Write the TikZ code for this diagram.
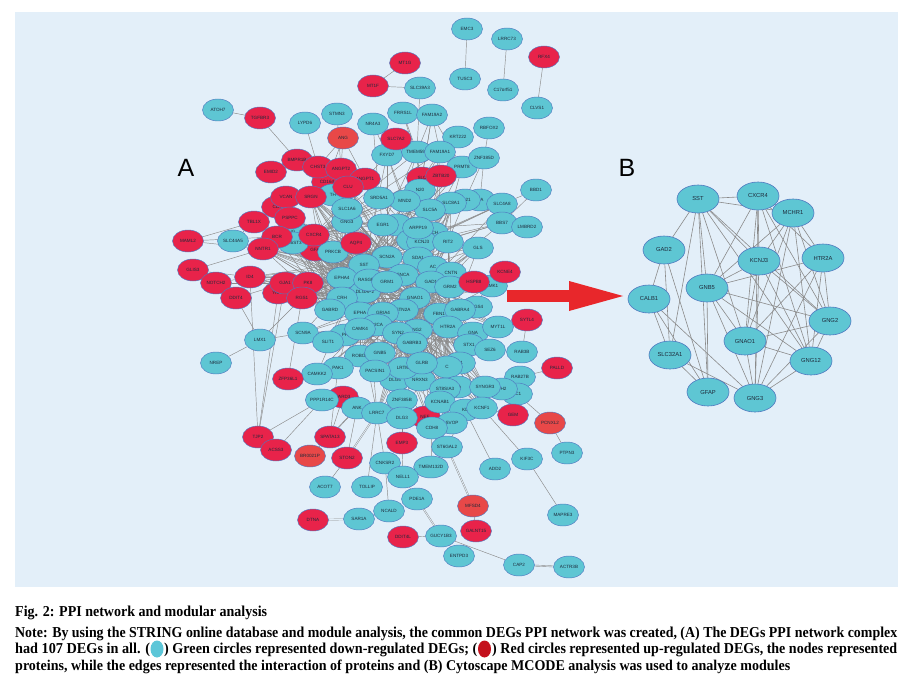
\documentclass[tikz,border=0pt]{standalone}
\usepackage{fontspec}
\setmainfont{Liberation Serif}
\setsansfont{Liberation Sans}
\usetikzlibrary{shapes.geometric}
\pgfdeclarelayer{back}
\pgfdeclarelayer{edges}
\pgfsetlayers{back,edges,main}
\definecolor{bgc}{HTML}{E3EFF9}
\definecolor{cyf}{HTML}{5EC6D3}
\definecolor{rdf}{HTML}{E8234A}
\definecolor{rlf}{HTML}{E84848}
\definecolor{ndr}{HTML}{4F78C0}
\definecolor{edg}{HTML}{8A8A8A}
\definecolor{txt}{HTML}{1E2A3A}
\definecolor{arr}{HTML}{E8272B}
\definecolor{capcy}{HTML}{5CC6D8}
\definecolor{caprd}{HTML}{C4101C}
\begin{document}
\begin{tikzpicture}[x=1pt,y=-1pt,
 cy/.style={ellipse,draw=ndr,line width=0.45pt,fill=cyf,minimum width=31pt,minimum height=22pt,inner sep=0pt,font=\sffamily\fontsize{4.6}{4.6}\selectfont,text=txt},
 rd/.style={cy,fill=rdf},
 rl/.style={cy,fill=rlf},
 big/.style={cy,line width=0.6pt,minimum width=42pt,minimum height=28pt,font=\sffamily\fontsize{5.8}{5.8}\selectfont},
 ed/.style={draw=edg,line width=0.45pt},
 edb/.style={draw=edg,line width=0.6pt},
 dbl/.style={draw=edg,line width=0.4pt,double=bgc,double distance=0.8pt},
 capline/.style={anchor=base west,inner sep=0pt}]
\useasboundingbox (0,0) rectangle (915,682);
\begin{pgfonlayer}{back}
\fill[white] (0,0) rectangle (915,682);
\fill[bgc] (15,12) rectangle (898,587);
\end{pgfonlayer}

% ---------- nodes of network A ----------
\foreach \n/\x/\y/\l in {SLCr/422/178/SLC, GFA/315/250/GFA, NEF/425/417/NEF, PARD3/343/397/PARD3, CD164/327/182/CD164}
  \node[rd] (\n) at (\x,\y) {\l};
\foreach \n/\x/\y/\l in {EMC3/467/29/EMC3, LRRC73/507/39/LRRC73, TUSC3/465/79/TUSC3, C17orf51/503/90/C17orf51, CLVS1/537/108/CLVS1, SLC39A3/420/88/SLC39A3, ATOH7/218/110/ATOH7, LYPD6/305/123/LYPD6, STMN3/337/114/STMN3, NR4A3/373/124/NR4A3, FRRS1L/403/113/FRRS1L, FAM19A2/432/115/FAM19A2, RBFOX2/489/128/RBFOX2, KRT222/458/137/KRT222, FXYD7/387/155/FXYD7, TMEM59L/417/152/TMEM59L, FAM19A1/440/152/FAM19A1, PRMT8/462/167/PRMT8, ZNF385D/484/158/ZNF385D,
 N20/420/190/N20, ILA/480/200/ILA, PP21/465/200/PP21, SLC8A1/451/203/SLC8A1, SLC5A/430/210/SLC5A, MND2/405/201/MND2, TH/333/195/TH, SRD5A1/379/198/SRD5A1, SLC4A8/502/204/SLC4A8, BBS7/502/223/BBS7, LMBRD2/527/227/LMBRD2, BBD1/536/190/BBD1, GNGa/347/222/GNG3, SLC1A6/347/209/SLC1A6,
 EGRb/397/225/{}, EGR1/383/225/EGR1, CA/412/240/CA, MCH/433/233/MCH, KCNJ3/422/242/KCNJ3, ARPP19/418/228/ARPP19, RIT2/448/242/RIT2, GLS/478/248/GLS,
 IG/293/232/IG, HS6ST3/293/243/HS6ST3, PRKCB/333/252/PRKCB, SLC44A5/233/241/SLC44A5,
 SDA1/418/258/SDA1, AC/433/267/AC, SCN2A/387/257/SCN2A, SST/364/265/SST, CNTN/451/273/CNTN, SNCA/403/275/SNCA, GAD1/431/282/GAD1, EPHA4/342/278/EPHA4, DLGAP2/365/292/DLGAP2, RASGRF2/369/280/RASGRF2, GRM1/387/282/GRM1, AMK1/492/286/AMK1, GRM2/450/287/GRM2, CRH/342/298/CRH, GNAO1/415/298/GNAO1, RGS4/477/307/RGS4, GABRD/330/310/GABRD, STN2A/403/310/STN2A, EPHA/360/313/EPHA, GRIA4/383/313/GRIA4, FBN1/439/314/FBN1, GABRA4/460/310/GABRA4,
 PH/345/335/PH, P2CA/377/325/P2CA, CAMK4/360/329/CAMK4, SCN9A/303/333/SCN9A, NG2/417/330/NG2, SYN2/398/333/SYN2, HTR2A/448/327/HTR2A, GNA/473/333/GNA, MYT1L/498/327/MYT1L, GABRB3/412/343/GABRB3, SLIT1/328/342/SLIT1, STX1/469/345/STX1, SEZ6/490/350/SEZ6, RAB3B/522/352/RAB3B, LMX1/260/340/LMX1, NREP/216/363/NREP,
 B1/460/363/B1, C/447/367/C, ROBO2/360/356/ROBO2, GNB5/380/353/GNB5, DLG4/395/380/DLG4, NRXN3/420/380/NRXN3, LRTM/403/368/LRTM, GLRB/422/363/GLRB, PACSIN1/375/371/PACSIN1, PAK1/338/368/PAK1, CAMKK2/317/374/CAMKK2, RAB27B/520/377/RAB27B,
 SA/458/387/SA, ST8SIA3/445/389/ST8SIA3, LC1/517/394/LC1, PH2/502/389/PH2, SYNGR3/485/387/SYNGR3, PPP1R14C/322/400/PPP1R14C, ANK/357/408/ANK, ZNF385B/402/400/ZNF385B, KCNAB1/440/402/KCNAB1, LRRC7/377/413/LRRC7, DLG3/402/418/DLG3, KL/465/410/KL, KCNF1/482/408/KCNF1, SVOP/452/423/SVOP, CDH8/432/428/CDH8, ST6GAL2/447/447/ST6GAL2,
 CNKSR2/385/463/CNKSR2, TMEM132D/431/467/TMEM132D, ACOT7/325/487/ACOT7, TOLLIP/367/487/TOLLIP, NELL1/403/477/NELL1, ADD2/495/469/ADD2, KIF3C/527/459/KIF3C, PTPN3/567/453/PTPN3, PDE1A/417/499/PDE1A, NCALD/389/511/NCALD, MAPRE3/563/515/MAPRE3, SAR1A/359/519/SAR1A, GUCY1B3/441/536/GUCY1B3, ENTPD3/459/556/ENTPD3, CAP2/519/565/CAP2, ACTR3B/569/567/ACTR3B}
  \node[cy] (\n) at (\x,\y) {\l};
\foreach \n/\x/\y/\l in {MT1G/405/63/MT1G, MT1F/373/86/MT1F, RFX4/544/57/RFX4, TGFBR3/260/118/TGFBR3, SLC7A2/396/139/SLC7A2, BMPR1B/297/160/BMPR1B, EMID2/271/172/EMID2, CHST3/318/167/CHST3, ANGPT2/341/169/ANGPT2, ANGPT1/365/179/ANGPT1, ZBTB20/441/176/ZBTB20, CLU/348/187/CLU, CLA/277/207/CLA, VCAN/286/197/VCAN, SRGN/311/197/SRGN, PSPPC/290/218/PSPPC, TBL1X/254/222/TBL1X, BOR/277/237/BCR, NNTR1/263/249/NNTR1, CXCR4/314/235/CXCR4, AQP4/356/243/AQP4, MAML2/188/241/MAML2, GLIS3/193/270/GLIS3, NOTCH2/216/283/NOTCH2, ID4/250/277/ID4, DDIT4/236/298/DDIT4, YAP1/278/293/YAP1, GJA1/285/283/GJA1, PK8/308/283/PK8, RGS1/302/298/RGS1, HSPB8/474/282/HSPB8, KCNE4/505/272/KCNE4, SYTL4/527/320/SYTL4, PALLD/557/368/PALLD, ZFP36L1/288/379/ZFP36L1, GEM/513/415/GEM, TJP2/258/437/TJP2, SPATA13/330/437/SPATA13, EMP3/402/443/EMP3, ACSS3/276/450/ACSS3, STON2/347/458/STON2, DTNA/313/520/DTNA, DDIT4L/403/537/DDIT4L, GALNT15/476/531/GALNT15}
  \node[rd] (\n) at (\x,\y) {\l};
\foreach \n/\x/\y/\l in {ANG/343/138/ANG, BRP/310/456/BR0021P, PCNXL2/550/423/PCNXL2, MFSD4/473/506/MFSD4}
  \node[rl] (\n) at (\x,\y) {\l};

% ---------- edges of network A ----------
\begin{pgfonlayer}{edges}
\foreach \a in {SST,GAD1,GNAO1,SNCA,SCN2A,GRIA4,CRH,EPHA4,SYN2,HTR2A,RASGRF2,GABRD}
  \foreach \b in {CXCR4,GFA,AQP4,PRKCB,IG,HS6ST3,GJA1,ID4,CLU,TH,SLC1A6,SRGN,PSPPC,NNTR1,PK8,RGS1,BOR}
    \draw[ed] (\a) -- (\b);
\foreach \a in {SST,GAD1,GNAO1,SNCA,SYN2,HTR2A,GRIA4}
  \foreach \b in {KCNJ3,RIT2,GLS,CNTN,AMK1,GRM2,RGS4,FBN1,GABRA4,MYT1L,STX1,SEZ6,GNA,ARPP19,SLC8A1,B1,C,SYNGR3,ST8SIA3,KCNAB1,KCNF1}
    \draw[ed] (\a) -- (\b);
\foreach \a in {SST,GAD1,GNAO1,SYN2,HTR2A,CAMK4,GABRB3}
  \foreach \b in {ROBO2,GNB5,GLRB,LRTM,PACSIN1,PAK1,CAMKK2,DLG4,NRXN3,ZNF385B,KCNAB1,LRRC7,DLG3,CDH8,SVOP,SCN9A,SLIT1}
    \draw[ed] (\a) -- (\b);
\foreach \a in {SRD5A1,MND2,N20,SLC5A,SLC8A1,PP21,SLC4A8,BBS7,TMEM59L,FAM19A1,PRMT8,FXYD7,SLCr,ZBTB20}
  \foreach \b in {SST,SCN2A,GAD1,KCNJ3,CXCR4}
    \draw[ed] (\a) -- (\b);
\foreach \a/\b in {EMC3/TUSC3, LRRC73/C17orf51, RFX4/CLVS1, MT1G/MT1F, MT1F/SLC39A3, SLC39A3/TMEM59L, ATOH7/TGFBR3, TGFBR3/BMPR1B, LYPD6/CHST3, ANG/ANGPT2, ANG/CD164, ANG/ANGPT1, ANG/CHST3, STMN3/ANGPT2, NR4A3/FXYD7, NR4A3/SRD5A1, FRRS1L/TMEM59L, FRRS1L/SLCr, FAM19A2/TMEM59L, FAM19A2/FAM19A1, FAM19A2/SLCr, FAM19A2/PRMT8, FAM19A2/N20, RBFOX2/ZNF385D, KRT222/FAM19A1, ZNF385D/ILA, ZNF385D/PP21, SLC7A2/FXYD7, BBD1/SLC4A8, BBD1/BBS7,
 MAML2/TBL1X, MAML2/NNTR1, MAML2/CXCR4, SLC44A5/NNTR1, SLC44A5/TBL1X, GLIS3/ID4, GLIS3/NNTR1, NOTCH2/ID4, NOTCH2/GJA1, DDIT4/GJA1, DDIT4/ID4, LMX1/NREP, LMX1/DDIT4, LMX1/RGS1, LMX1/SCN9A, TJP2/ACSS3, TJP2/ID4, TJP2/GJA1, TJP2/YAP1, TJP2/PPP1R14C, ZFP36L1/CAMKK2, ZFP36L1/RGS1, SPATA13/PAK1, SPATA13/ANK, SPATA13/PARD3, STON2/ACOT7, STON2/ANK, EMP3/NELL1, EMP3/DLG3, CNKSR2/LRRC7, CNKSR2/NCALD, TOLLIP/LRRC7, TMEM132D/CDH8, NCALD/SAR1A, PDE1A/NELL1, DDIT4L/GUCY1B3, GUCY1B3/ENTPD3, GUCY1B3/CAP2, MFSD4/GALNT15, ADD2/KL, KIF3C/MAPRE3, KIF3C/KCNF1, PTPN3/PCNXL2, PCNXL2/LC1, PALLD/RAB27B, SYTL4/RAB3B, KCNE4/HSPB8, KCNE4/AMK1, HSPB8/GAD1, GEM/KCNF1, ST6GAL2/CDH8, ACSS3/PPP1R14C, BRP/ANK, RAB27B/SYNGR3, SEZ6/RAB3B, MYT1L/GNA, ST6GAL2/KL}
  \draw[ed] (\a) -- (\b);
\foreach \a/\b in {SAR1A/DTNA, PDE1A/GUCY1B3, CAP2/ACTR3B, MFSD4/ST6GAL2, STON2/LRRC7}
  \draw[dbl] (\a) -- (\b);
\end{pgfonlayer}

% ---------- arrow and panel letters ----------
\fill[arr] (507,290) rectangle (571,302);
\fill[arr] (569,281) -- (623,296) -- (569,311) -- cycle;
\node[font=\sffamily\fontsize{25}{25}\selectfont] (labA) at (186,168) {A};
\node[font=\sffamily\fontsize{25}{25}\selectfont] (labB) at (627,168) {B};

% ---------- module B ----------
\foreach \n/\x/\y/\l in {bSST/698/199/SST, bCXCR4/758/196/CXCR4, bMCHR1/793/213/MCHR1, bGAD2/664/250/GAD2, bKCNJ3/759/261/KCNJ3, bHTR2A/823/258/HTR2A, bGNB5/707/288/GNB5, bCALB1/649/299/CALB1, bGNG2/830/321/GNG2, bGNAO1/745/341/GNAO1, bGNG12/811/361/GNG12, bSLC32A1/670/355/SLC32A1, bGFAP/708/392/GFAP, bGNG3/755/398/GNG3}
  \node[big] (\n) at (\x,\y) {\l};
\begin{pgfonlayer}{edges}
\foreach \a/\b in {bSST/bCXCR4, bSST/bMCHR1, bSST/bGAD2, bSST/bSLC32A1, bSST/bGNB5, bSST/bKCNJ3, bSST/bGNG2, bSST/bGNG12, bSST/bGFAP, bSST/bGNAO1,
 bCXCR4/bMCHR1, bCXCR4/bGNB5, bCXCR4/bKCNJ3, bCXCR4/bGNAO1, bCXCR4/bGNG3, bCXCR4/bGNG12, bCXCR4/bGNG2, bCXCR4/bHTR2A,
 bMCHR1/bKCNJ3, bMCHR1/bHTR2A, bMCHR1/bGNG2, bMCHR1/bGNG12, bMCHR1/bGNG3, bMCHR1/bGNAO1, bMCHR1/bGNB5,
 bGAD2/bCALB1, bGAD2/bSLC32A1, bGAD2/bGFAP, bCALB1/bSLC32A1, bCALB1/bGFAP, bCALB1/bGNG3, bSLC32A1/bGFAP, bSLC32A1/bGNG3,
 bKCNJ3/bGNB5, bKCNJ3/bGNG2, bKCNJ3/bGNG12, bKCNJ3/bGNG3, bKCNJ3/bGNAO1,
 bHTR2A/bGNB5, bHTR2A/bGNG2, bHTR2A/bGNG12, bHTR2A/bGNG3, bHTR2A/bGNAO1,
 bGNB5/bGNG2, bGNB5/bGNG12, bGNB5/bGNG3, bGNB5/bGNAO1, bGNB5/bGFAP,
 bGNAO1/bGNG2, bGNAO1/bGNG12, bGNAO1/bGNG3, bGNG2/bGNG12, bGNG2/bGNG3, bGNG12/bGNG3}
  \draw[edb] (\a) -- (\b);
\end{pgfonlayer}

% ---------- caption ----------
\node[capline] (cap1) at (15,616) {\resizebox{252pt}{10.5pt}{\bfseries\vphantom{(}Fig. 2: PPI network and modular analysis}};
\node[capline] (cap2) at (15,637) {\resizebox{882pt}{10.5pt}{\bfseries\vphantom{(}Note: By using the STRING online database and module analysis, the common DEGs PPI network was created, (A) The DEGs PPI network complex}};
\node[capline] (cap3a) at (15,653) {\resizebox{135pt}{10.5pt}{\bfseries\vphantom{(}had 107 DEGs in all. (}};
\node[capline] (cap3b) at (164,653) {\resizebox{313pt}{10.5pt}{\bfseries\vphantom{(}) Green circles represented down-regulated DEGs; (}};
\node[capline] (cap3c) at (492,653) {\resizebox{405pt}{10.5pt}{\bfseries\vphantom{(}) Red circles represented up-regulated DEGs, the nodes represented}};
\node[capline] (cap4) at (15,670) {\resizebox{775pt}{10.5pt}{\bfseries\vphantom{(}proteins, while the edges represented the interaction of proteins and (B) Cytoscape MCODE analysis was used to analyze modules}};
\fill[capcy] (157,649) ellipse (6.5 and 8.5);
\fill[caprd] (484.5,649) ellipse (6.5 and 8.5);
\end{tikzpicture}
\end{document}
